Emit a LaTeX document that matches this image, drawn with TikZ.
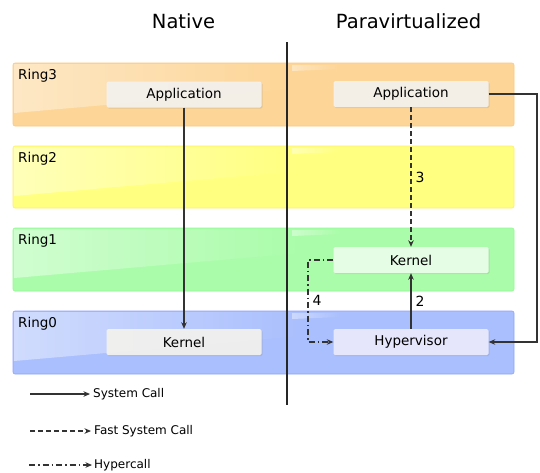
\documentclass[tikz,border=0pt]{standalone}
\usepackage{fontspec}
\setmainfont{DejaVu Sans}
\usetikzlibrary{arrows.meta,fadings,shadows}
\definecolor{ringthree}{HTML}{FDD596}
\definecolor{ringtwo}{HTML}{FFFF80}
\definecolor{ringone}{HTML}{AAFCAA}
\definecolor{ringzero}{HTML}{AABFFD}
\definecolor{boxfill}{HTML}{F5F3EF}
\definecolor{linecol}{HTML}{333333}
\begin{document}
\begin{tikzpicture}[x=1pt,y=-1pt,
  band/.style={rounded corners=2pt, line width=0.6pt},
  gloss/.style={white, path fading=east, fill opacity=0.45},
  ringlabel/.style={anchor=north west, inner sep=0pt, font=\fontsize{13.5}{16}\selectfont},
  compbox/.style={draw=none, fill=boxfill, fill opacity=0.92, text opacity=1, minimum width=155pt, minimum height=26pt, rounded corners=1.5pt, inner sep=0pt, font=\fontsize{13.5}{16}\selectfont, drop shadow={shadow xshift=1pt, shadow yshift=-1.2pt, opacity=0.2}},
  title/.style={font=\fontsize{19.5}{23}\selectfont},
  conn/.style={line width=1.4pt, draw=linecol, -{Stealth[length=6.5pt,width=5.5pt]}},
  numlabel/.style={font=\fontsize{14}{16}\selectfont, inner sep=1pt},
  legtext/.style={anchor=west, inner sep=0pt, font=\fontsize{12}{14}\selectfont}]
\useasboundingbox (0,0) rectangle (540,472);

% privilege rings
\fill[band, ringthree, draw=ringthree!85!orange] (13,63) rectangle (514,126);
\fill[band, ringtwo, draw=ringtwo!85!orange] (13,146) rectangle (514,208);
\fill[band, ringone, draw=ringone!85!green] (13,228) rectangle (514,291);
\fill[band, ringzero, draw=ringzero!85!blue] (13,311) rectangle (514,374);

% glossy highlights
\foreach \t in {63,146,228,311}{
  \fill[gloss] (14,\t+1) -- (300,\t+1) -- (300,\t+25) -- (14,\t+50) -- cycle;
  \fill[white, path fading=east, fill opacity=0.4] (292,\t+2) -- (340,\t+2) -- (340,\t+6) -- (292,\t+8) -- cycle;
}

\node[ringlabel] (r3) at (18,69) {Ring3};
\node[ringlabel] (r2) at (18,152) {Ring2};
\node[ringlabel] (r1) at (18,234) {Ring1};
\node[ringlabel] (r0) at (18,317) {Ring0};

% column titles and divider
\node[title] (tnative) at (183.5,21.5) {Native};
\node[title] (tpara) at (408.5,21.5) {Paravirtualized};
\coordinate (dtop) at (287,42);
\coordinate (dbot) at (287,405);
\draw[line width=1.3pt, draw=black!85] (dtop) -- (dbot);

% components
\node[compbox] (napp) at (184,94.5) {Application};
\node[compbox] (nker) at (184,342) {Kernel};
\node[compbox] (papp) at (411,94) {Application};
\node[compbox, fill=white!92!green] (pker) at (411,260) {Kernel};
\node[compbox, fill=white!92!blue] (hyp) at (411,342) {Hypervisor};

% calls
\draw[conn] (napp) -- (nker);
\draw[conn, dash pattern=on 5pt off 3pt] (papp) -- node[numlabel, right=3pt, pos=0.5] (l3) {3} (pker);
\draw[conn] (hyp) -- node[numlabel, right=3pt] (l2) {2} (pker);
\coordinate (hc1) at (308,260);
\coordinate (hc2) at (308,342);
\draw[conn, dash pattern=on 6pt off 3pt on 1.5pt off 3pt] (pker.west) -- (hc1) -- (hc2) -- (hyp.west);
\node[numlabel] (l4) at (317,300) {4};
\coordinate (sc1) at (537,94);
\coordinate (sc2) at (537,342);
\draw[conn] (papp.east) -- (sc1) -- (sc2) -- (hyp.east);

% legend
\coordinate (la) at (30,394);
\coordinate (lb) at (90,394);
\coordinate (lc) at (30,431);
\coordinate (ld) at (91,431);
\coordinate (le) at (29,465);
\coordinate (lf) at (92,465);
\draw[conn, line width=1.1pt] (la) -- (lb);
\draw[conn, line width=1.1pt, dash pattern=on 5pt off 3pt] (lc) -- (ld);
\draw[conn, line width=1.1pt, dash pattern=on 6pt off 3pt on 1.5pt off 3pt] (le) -- (lf);
\node[legtext] (t1) at (93,394) {System Call};
\node[legtext] (t2) at (94,431) {Fast System Call};
\node[legtext] (t3) at (94,465) {Hypercall};
\end{tikzpicture}
\end{document}
